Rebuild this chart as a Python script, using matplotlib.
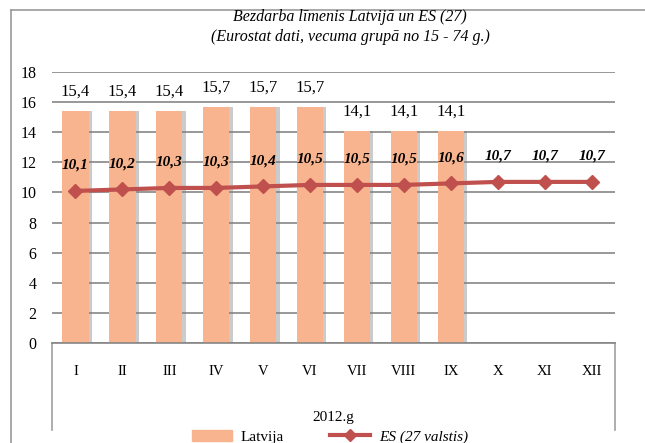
import numpy as np
import matplotlib.pyplot as plt
from matplotlib.lines import Line2D
from matplotlib.patches import Patch

months = ['I', 'II', 'III', 'IV', 'V', 'VI', 'VII', 'VIII', 'IX', 'X', 'XI', 'XII']
latvija = [15.4, 15.4, 15.4, 15.7, 15.7, 15.7, 14.1, 14.1, 14.1]
es27 = [10.1, 10.2, 10.3, 10.3, 10.4, 10.5, 10.5, 10.5, 10.6, 10.7, 10.7, 10.7]
yticks = [0, 2, 4, 6, 8, 10, 12, 14, 16, 18]

bar_col = '#F8B48E'
line_col = '#C0504D'
grid_col = '#868686'
serif = 'Liberation Serif'

def fmt(v):
   return ('%.1f' % v).replace('.', ',')

fig = plt.figure(figsize=(6.45, 4.43), dpi=100)
W, H = 645., 443.
# outer frame (left + top edge)
fig.add_artist(Line2D([11/W, 11/W], [0, 1-10/H], color='#9a9a9a', lw=1.2))
fig.add_artist(Line2D([11/W, 1], [1-10/H, 1-10/H], color='#9a9a9a', lw=1.2))

ax = fig.add_axes([52/W, 1-343/H, (615-52)/W, (343-72)/H])
x = np.arange(len(months))
xl = x[:len(latvija)]

# shadow then bars
ax.bar(xl + 0.07, latvija, width=0.56, color='#7f7f7f', alpha=0.4, zorder=1)
ax.bar(xl, latvija, width=0.56, color=bar_col, zorder=2)
ax.plot(x, es27, color=line_col, lw=3, marker='D', ms=7, zorder=4)

for xi, v in zip(xl, latvija):
   ax.text(xi, v + 0.75, fmt(v), ha='center', va='bottom', family=serif,
           fontsize=12)
for xi, v in zip(x, es27):
   ax.text(xi, v + 1.7, fmt(v), ha='center', va='center', family=serif,
           fontsize=11, fontweight='bold', style='italic')

ax.set_xlim(-0.5, len(months) - 0.5)
ax.set_ylim(0, 18)
ax.set_yticks(yticks)
ax.set_yticklabels([str(t) for t in yticks], family=serif, fontsize=11.5)
ax.yaxis.grid(True, color=grid_col, lw=1.2, zorder=0)
ax.set_axisbelow(True)
ax.tick_params(axis='y', length=0, pad=11)
ax.set_xticks(x)
ax.set_xticklabels(months, family=serif, fontsize=10.5)
ax.tick_params(axis='x', length=0, pad=16)
for s in ['top', 'right', 'left']:
   ax.spines[s].set_visible(False)
ax.spines['bottom'].set_color(grid_col)
ax.spines['bottom'].set_linewidth(1.2)

# category box below the axis
yb = -(430 - 343) / (343 - 72.)
for xx in [0, 1]:
   ax.add_artist(Line2D([xx, xx], [0, yb], transform=ax.transAxes,
                        color='#a0a0a0', lw=1.2, clip_on=False))
ax.text(0.5, -(418 - 343) / 271., '2012.g', transform=ax.transAxes,
        ha='center', va='center', family=serif, fontsize=11)

fig.text(350/W, 1-17/H, 'Bezdarba līmenis Latvijā un ES (27)', ha='center',
         va='center', family=serif, style='italic', fontsize=11.5)
fig.text(350/W, 1-37/H, '(Eurostat dati, vecuma grupā no 15 - 74 g.)',
         ha='center', va='center', family=serif, style='italic', fontsize=11.5)

handles = [Patch(color=bar_col, label='Latvija'),
           Line2D([], [], color=line_col, lw=3, marker='D', ms=6,
                  label='ES (27 valstis)')]
leg = fig.legend(handles=handles, loc='center', ncol=2,
                 bbox_to_anchor=(330/W, 1-437/H), frameon=False,
                 prop={'family': serif, 'size': 11}, handlelength=2.6,
                 columnspacing=3, handletextpad=0.6)
leg.get_texts()[1].set_style('italic')

fig.savefig('out.png', dpi=100)
